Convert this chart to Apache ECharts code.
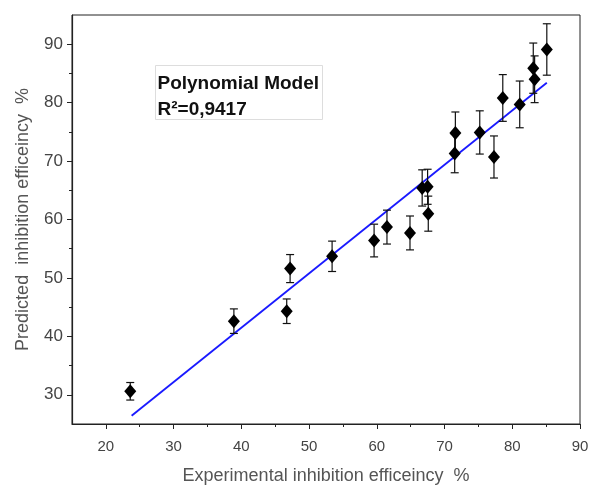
<!DOCTYPE html>
<html lang="en">
<head>
    <meta charset="UTF-8">
    <title>Polynomial Model</title>
    <script src="https://cdn.jsdelivr.net/npm/echarts@6.0.0/dist/echarts.min.js"></script>
    <style>
        html, body { margin: 0; padding: 0; background: #fff; }
    </style>
</head>
<body>
    <div id="main" style="width: 589px;height:487px;"></div>
    <script type="text/javascript">
        // experimental vs predicted inhibition efficiency (%) and error (+/-)
        const experimental = [23.6, 38.9, 46.7, 47.2, 53.4, 59.6, 61.5, 64.9, 66.7, 67.5, 67.6, 71.5, 71.6, 75.2, 77.3, 78.6, 81.1, 83.1, 83.3, 85.1];
        const predicted    = [30.6, 42.6, 44.3, 51.6, 53.7, 56.4, 58.7, 57.7, 65.4, 65.6, 61.0, 71.3, 74.8, 74.9, 70.7, 80.8, 79.7, 85.9, 84.0, 89.1];
        const errors       = [1.5, 2.1, 2.1, 2.4, 2.6, 2.8, 2.9, 2.9, 3.1, 3.0, 3.0, 3.3, 3.6, 3.7, 3.6, 4.0, 4.0, 4.3, 4.0, 4.4];

        // fitted line end points
        const fitX = [23.8, 85.1];
        const fitY = [26.4, 83.4];

        const majorX = [20, 30, 40, 50, 60, 70, 80, 90];
        const minorX = [25, 35, 45, 55, 65, 75, 85];
        const majorY = [30, 40, 50, 60, 70, 80, 90];
        const minorY = [35, 45, 55, 65, 75, 85];

        const font = '"Liberation Sans", Arial, sans-serif';

        const points = experimental.map((x, i) => [x, predicted[i]]);
        const bars = experimental.map((x, i) => [x, predicted[i] - errors[i], predicted[i] + errors[i]]);
        const fitLine = fitX.map((x, i) => [x, fitY[i]]);

        const gridBox = { left: 72, right: 9, top: 15, bottom: 63, outerBoundsMode: 'none' };

        const mainX = {
            type: 'value', min: 15, max: 90, interval: 5,
            axisLine: { lineStyle: { color: '#222', width: 1.2 } },
            axisTick: { show: true, customValues: majorX, length: 5, lineStyle: { color: '#222' } },
            axisLabel: { customValues: majorX, color: '#444', fontSize: 15, fontFamily: font, margin: 15 },
            splitLine: { show: false },
            name: 'Experimental inhibition efficeincy  %',
            nameLocation: 'middle', nameGap: 43,
            nameTextStyle: { color: '#555', fontSize: 18, fontFamily: font }
        };
        const minorXAxis = {
            type: 'value', min: 15, max: 90, interval: 5,
            axisLine: { show: false },
            axisTick: { show: true, customValues: minorX, length: 3, lineStyle: { color: '#222' } },
            axisLabel: { show: false },
            splitLine: { show: false }
        };
        const mainY = {
            type: 'value', min: 25, max: 95, interval: 5,
            axisLine: { lineStyle: { color: '#222', width: 1.2 } },
            axisTick: { show: true, customValues: majorY, length: 5, lineStyle: { color: '#222' } },
            axisLabel: { customValues: majorY, color: '#444', fontSize: 17, fontFamily: font, margin: 9 },
            splitLine: { show: false },
            name: 'Predicted  inhibition efficeincy  %',
            nameLocation: 'middle', nameGap: 40,
            nameTextStyle: { color: '#555', fontSize: 18, fontFamily: font }
        };
        const minorYAxis = {
            type: 'value', min: 25, max: 95, interval: 5,
            axisLine: { show: false },
            axisTick: { show: true, customValues: minorY, length: 3, lineStyle: { color: '#222' } },
            axisLabel: { show: false },
            splitLine: { show: false }
        };

        let options = {
            animation: false,
            backgroundColor: '#fff',
            grid: [
                Object.assign({ show: true, borderColor: '#222', borderWidth: 1 }, gridBox),
                Object.assign({}, gridBox)
            ],
            xAxis: [mainX, Object.assign({ gridIndex: 1 }, minorXAxis)],
            yAxis: [mainY, Object.assign({ gridIndex: 1 }, minorYAxis)],
            graphic: [{
                type: 'group', left: 155, top: 65,
                children: [
                    { type: 'rect', shape: { x: 0, y: 0, width: 167, height: 54 },
                      style: { fill: '#fff', stroke: '#ddd', lineWidth: 1 } },
                    { type: 'text', x: 2, y: 5,
                      style: { text: 'Polynomial Model\nR²=0,9417', fill: '#111',
                               font: 'bold 19px ' + font, lineHeight: 26 } }
                ]
            }],
            series: [
                {
                    name: 'fit', type: 'line', data: fitLine,
                    symbol: 'none', lineStyle: { color: '#1a1aff', width: 1.8 }, z: 2
                },
                {
                    name: 'error', type: 'custom', data: bars, z: 3,
                    renderItem: (params, api) => {
                        const lo = api.coord([api.value(0), api.value(1)]);
                        const hi = api.coord([api.value(0), api.value(2)]);
                        const cap = 4;
                        const style = { stroke: '#111', lineWidth: 1.2 };
                        return {
                            type: 'group',
                            children: [
                                { type: 'line', shape: { x1: lo[0], y1: lo[1], x2: hi[0], y2: hi[1] }, style },
                                { type: 'line', shape: { x1: lo[0] - cap, y1: lo[1], x2: lo[0] + cap, y2: lo[1] }, style },
                                { type: 'line', shape: { x1: hi[0] - cap, y1: hi[1], x2: hi[0] + cap, y2: hi[1] }, style }
                            ]
                        };
                    }
                },
                {
                    name: 'points', type: 'scatter', data: points,
                    symbol: 'diamond', symbolSize: [12, 14],
                    itemStyle: { color: '#000', opacity: 1 }, z: 4
                }
            ]
        };

        let myChart = echarts.init(document.getElementById('main'));
        myChart.setOption(options);
    </script>
</body>
</html>
